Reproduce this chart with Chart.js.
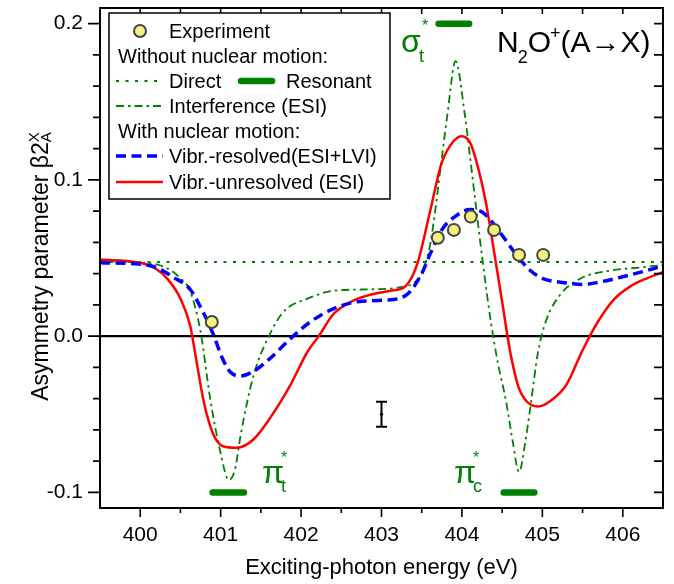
<!DOCTYPE html>
<html><head><meta charset="utf-8">
<script src="https://cdn.jsdelivr.net/npm/chart.js@4"></script>
<style>html,body{margin:0;padding:0;background:#fff}#wrap{width:674px;height:584px}</style>
</head><body><div id="wrap"><canvas id="c" width="674" height="584"></canvas></div>
<script>
const FONT = '"Liberation Sans", Arial, Helvetica, sans-serif';
const G = '#008000', B = '#0000ff', R = '#ff0000';

// ---- data ----
const xTicks = [400, 401, 402, 403, 404, 405, 406];
const yTicks = [-0.1, 0.0, 0.1, 0.2];

const directX = [399.5, 406.5];
const directY = [0.0475, 0.0475];

const interfX = [399.5, 400.0, 400.2, 400.35, 400.5, 400.62, 400.75, 400.87, 401.0, 401.1, 401.18, 401.25, 401.41, 401.6, 401.78, 402.08, 402.4, 402.9, 403.2, 403.4, 403.5, 403.61, 403.74, 403.82, 403.92, 404.04, 404.1, 404.17, 404.26, 404.36, 404.45, 404.55, 404.63, 404.71, 404.79, 404.86, 404.94, 405.04, 405.23, 405.48, 405.85, 406.23, 406.5];
const interfY = [0.048, 0.047, 0.046, 0.043, 0.037, 0.029, 0.003, -0.040, -0.075, -0.092, -0.085, -0.063, -0.025, 0.0, 0.0155, 0.024, 0.029, 0.030, 0.031, 0.034, 0.040, 0.060, 0.110, 0.142, 0.176, 0.140, 0.115, 0.085, 0.047, 0.009, -0.018, -0.042, -0.067, -0.087, -0.067, -0.042, -0.012, 0.009, 0.027, 0.037, 0.042, 0.044, 0.0455];

const resolvedX = [399.5, 400.0, 400.2, 400.4, 400.62, 400.78, 400.91, 401.02, 401.12, 401.25, 401.41, 401.62, 401.87, 402.12, 402.4, 402.7, 403.03, 403.3, 403.5, 403.6, 403.75, 403.9, 404.1, 404.25, 404.4, 404.55, 404.7, 404.85, 405.0, 405.3, 405.5, 405.7, 406.0, 406.3, 406.5];
const resolvedY = [0.047, 0.046, 0.044, 0.038, 0.030, 0.0155, 0.001, -0.014, -0.023, -0.0255, -0.0225, -0.014, -0.0015, 0.0093, 0.0175, 0.022, 0.023, 0.026, 0.040, 0.052, 0.068, 0.076, 0.081, 0.0795, 0.0715, 0.061, 0.0505, 0.042, 0.037, 0.034, 0.033, 0.0345, 0.038, 0.042, 0.045];

const unresolvedX = [399.5, 400.0, 400.2, 400.35, 400.5, 400.62, 400.68, 400.79, 400.91, 401.03, 401.2, 401.41, 401.62, 401.87, 402.08, 402.22, 402.4, 402.62, 402.9, 403.11, 403.3, 403.45, 403.6, 403.75, 403.9, 404.0, 404.1, 404.2, 404.3, 404.4, 404.5, 404.6, 404.7, 404.8, 404.95, 405.1, 405.3, 405.5, 405.7, 405.9, 406.1, 406.3, 406.5];
const unresolvedY = [0.049, 0.047, 0.043, 0.036, 0.024, 0.007, -0.010, -0.042, -0.063, -0.0705, -0.0715, -0.066, -0.052, -0.031, -0.010, 0.0, 0.014, 0.022, 0.027, 0.029, 0.032, 0.047, 0.079, 0.111, 0.125, 0.128, 0.124, 0.108, 0.085, 0.054, 0.022, -0.010, -0.032, -0.0415, -0.045, -0.0415, -0.031, -0.009, 0.010, 0.024, 0.032, 0.037, 0.041];

const expX = [400.89, 403.70, 403.90, 404.11, 404.40, 404.71, 405.01];
const expY = [0.009, 0.063, 0.068, 0.0765, 0.068, 0.052, 0.052];

const resStart = [403.71, 400.90, 404.52];
const resEnd   = [404.09, 401.29, 404.90];
const resLevel = [0.2, -0.1, -0.1];

const errX = 403.0, errY = -0.05, errHalf = 0.008;

// ---- helpers ----
const pts = (xs, ys) => xs.map((x, i) => ({x, y: ys[i]}));
const lineDs = (label, data, color, width, dash, order) => ({
  type: 'scatter', label, data, showLine: true, borderColor: color, backgroundColor: color,
  borderWidth: width, borderDash: dash, pointRadius: 0, cubicInterpolationMode: 'monotone', order
});

const datasets = [
  {type: 'scatter', label: 'Experiment', data: pts(expX, expY), pointRadius: 6, pointBackgroundColor: '#f4f07c',
   pointBorderColor: '#444', pointBorderWidth: 2, showLine: false, order: 0},
  lineDs('Vibr.-resolved(ESI+LVI)', pts(resolvedX, resolvedY), B, 3.5, [10, 5.5], 1),
  lineDs('Vibr.-unresolved (ESI)', pts(unresolvedX, unresolvedY), R, 2.5, [], 2),
  lineDs('Interference (ESI)', pts(interfX, interfY), G, 1.8, [8, 4, 2.5, 4], 3),
  lineDs('Direct', pts(directX, directY), G, 2, [3, 6.5], 4),
];
resStart.forEach((s, i) => {
  datasets.push({type: 'scatter', label: 'Resonant', data: [{x: s, y: resLevel[i]}, {x: resEnd[i], y: resLevel[i]}],
    showLine: true, borderColor: G, borderWidth: 6.5, borderCapStyle: 'round', pointRadius: 0, order: 5});
});

function txt(ctx, s, x, y, size, color) {
  ctx.font = size + 'px ' + FONT; ctx.fillStyle = color; ctx.fillText(s, x, y);
  return x + ctx.measureText(s).width;
}
function seg(ctx, x1, x2, y, color, w, dash, cap) {
  ctx.save(); ctx.beginPath(); ctx.setLineDash(dash); ctx.lineCap = cap || 'butt';
  ctx.strokeStyle = color; ctx.lineWidth = w; ctx.moveTo(x1, y); ctx.lineTo(x2, y); ctx.stroke(); ctx.restore();
}

const deco = {
  id: 'deco',
  beforeDatasetsDraw(chart) {
    const {ctx, chartArea: a, scales: {y}} = chart;
    const y0 = y.getPixelForValue(0);
    ctx.save(); ctx.beginPath(); ctx.moveTo(a.left, y0); ctx.lineTo(a.right, y0);
    ctx.lineWidth = 2.2; ctx.strokeStyle = '#000'; ctx.stroke(); ctx.restore();
  },
  afterDatasetsDraw(chart) {
    const {ctx, chartArea: a, scales: {x, y}} = chart;
    ctx.save();
    ctx.strokeStyle = '#000'; ctx.lineWidth = 2;
    ctx.strokeRect(a.left, a.top, a.right - a.left, a.bottom - a.top);
    ctx.lineWidth = 1.6;
    ctx.beginPath();
    for (let v = 400; v <= 406.01; v += 0.5) {
      const px = x.getPixelForValue(v);
      const major = Math.abs(v - Math.round(v)) < 1e-6;
      ctx.moveTo(px, a.bottom); ctx.lineTo(px, a.bottom + (major ? 9 : 5));
      ctx.moveTo(px, a.top); ctx.lineTo(px, a.top + 6);
    }
    for (let k = -5; k <= 10; k++) {
      const v = k * 0.02;
      const py = y.getPixelForValue(v);
      const major = k % 5 === 0;
      ctx.moveTo(a.left, py); ctx.lineTo(a.left - (major ? 12 : 7), py);
      ctx.moveTo(a.right, py); ctx.lineTo(a.right - 9, py);
    }
    ctx.stroke();

    // error bar
    const ex = x.getPixelForValue(errX), eyT = y.getPixelForValue(errY + errHalf), eyB = y.getPixelForValue(errY - errHalf);
    ctx.beginPath(); ctx.lineWidth = 2;
    ctx.moveTo(ex, eyT); ctx.lineTo(ex, eyB);
    ctx.moveTo(ex - 5.5, eyT); ctx.lineTo(ex + 5.5, eyT);
    ctx.moveTo(ex - 5.5, eyB); ctx.lineTo(ex + 5.5, eyB);
    ctx.stroke();
    ctx.beginPath(); ctx.arc(ex, y.getPixelForValue(errY), 1.6, 0, Math.PI * 2); ctx.fillStyle = '#000'; ctx.fill();

    // legend
    ctx.lineWidth = 1.5; ctx.strokeStyle = '#000'; ctx.setLineDash([]);
    ctx.fillStyle = '#fff'; ctx.fillRect(109, 13, 281, 186);
    ctx.strokeRect(109, 13, 281, 186);
    ctx.textBaseline = 'middle'; ctx.textAlign = 'left';
    ctx.beginPath(); ctx.arc(140, 31, 6, 0, Math.PI * 2); ctx.fillStyle = '#f4f07c'; ctx.fill();
    ctx.lineWidth = 2; ctx.strokeStyle = '#444'; ctx.stroke();
    txt(ctx, 'Experiment', 169, 32, 20, '#000');
    txt(ctx, 'Without nuclear motion:', 118, 57, 20, '#000');
    seg(ctx, 116, 163, 81, G, 2, [3, 6.5]);
    txt(ctx, 'Direct', 169, 82, 20, '#000');
    seg(ctx, 241, 272, 81, G, 6.5, [], 'round');
    txt(ctx, 'Resonant', 286, 82, 20, '#000');
    seg(ctx, 116, 163, 106, G, 1.8, [8, 4, 2.5, 4]);
    txt(ctx, 'Interference (ESI)', 169, 107, 20, '#000');
    txt(ctx, 'With nuclear motion:', 118, 132, 20, '#000');
    seg(ctx, 116, 163, 156, B, 3.5, [10, 5.5]);
    txt(ctx, 'Vibr.-resolved(ESI+LVI)', 169, 157, 20, '#000');
    seg(ctx, 116, 163, 182, R, 2.5, []);
    txt(ctx, 'Vibr.-unresolved (ESI)', 169, 183, 20, '#000');

    // molecule label
    ctx.textBaseline = 'alphabetic';
    let cx = 497;
    cx = txt(ctx, 'N', cx, 52, 30, '#000');
    cx = txt(ctx, '2', cx - 1, 63, 18, '#000');
    cx = txt(ctx, 'O', cx, 52, 30, '#000');
    cx = txt(ctx, '+', cx - 1, 39, 18, '#000');
    cx = txt(ctx, '(A\u2192X)', cx, 52, 30, '#000');

    // resonance labels
    txt(ctx, '\u03C3', 401, 52, 32, G);
    txt(ctx, '*', 422, 31, 16, G);
    txt(ctx, 't', 419, 62, 18, G);
    txt(ctx, '\u03C0', 262, 483, 32, G);
    txt(ctx, '*', 281, 463, 16, G);
    txt(ctx, 't', 281, 492, 18, G);
    txt(ctx, '\u03C0', 454, 483, 32, G);
    txt(ctx, '*', 473, 463, 16, G);
    txt(ctx, 'c', 473, 492, 18, G);

    // axis titles
    ctx.textAlign = 'center';
    txt(ctx, 'Exciting-photon energy (eV)', (a.left + a.right) / 2, 574, 22, '#000');
    ctx.translate(48, 264); ctx.rotate(-Math.PI / 2);
    ctx.textAlign = 'left';
    ctx.font = '23px ' + FONT;
    const main = 'Asymmetry parameter \u03B22';
    const w = ctx.measureText(main).width + 11;
    let tx = -w / 2 - 2;
    const end = txt(ctx, main, tx, 0, 23, '#000');
    txt(ctx, 'X', end, -9, 15, '#000');
    txt(ctx, 'A', end, 3, 15, '#000');
    ctx.restore();
  }
};

new Chart(document.getElementById('c'), {
  type: 'scatter',
  data: {datasets},
  options: {
    responsive: false, animation: false, devicePixelRatio: 1,
    layout: {padding: {top: 3, right: 11, left: 0, bottom: 0}},
    plugins: {legend: {display: false}, tooltip: {enabled: false}, title: {display: false}},
    scales: {
      x: {type: 'linear', min: 399.5, max: 406.5,
        afterBuildTicks: s => { s.ticks = xTicks.map(v => ({value: v})); },
        afterFit: s => { s.height = 76; s.paddingLeft = 0; s.paddingRight = 0; s.paddingTop = 0; s.paddingBottom = 0; },
        grid: {display: false, drawTicks: false}, border: {display: false},
        ticks: {font: {family: FONT, size: 21}, color: '#000', padding: 15, maxRotation: 0, callback: v => String(v)}},
      y: {type: 'linear', min: -0.11, max: 0.21,
        afterBuildTicks: s => { s.ticks = yTicks.map(v => ({value: v})); },
        afterFit: s => { s.width = 100; s.paddingTop = 0; s.paddingBottom = 0; s.paddingLeft = 0; s.paddingRight = 0; },
        grid: {display: false, drawTicks: false}, border: {display: false},
        ticks: {font: {family: FONT, size: 21}, color: '#000', padding: 17, callback: v => Number(v).toFixed(1)}}
    }
  },
  plugins: [deco]
});
</script></body></html>
